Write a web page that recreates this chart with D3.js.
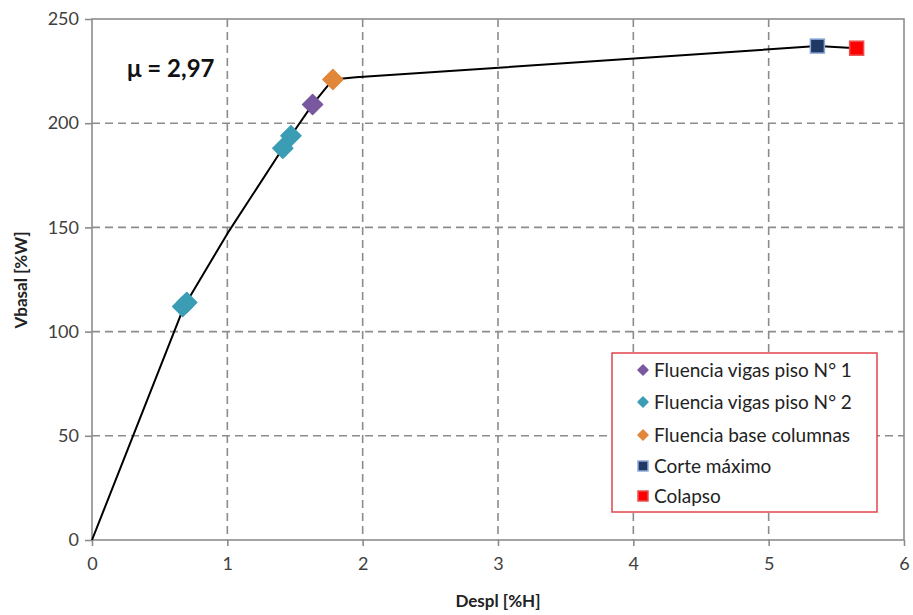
<!DOCTYPE html>
<html><head><meta charset="utf-8">
<script src="https://cdn.jsdelivr.net/npm/d3@7"></script>
<style>body{margin:0;background:#fff}svg{display:block}</style>
</head><body>
<svg id="c" width="913" height="615"></svg>
<script>
const curveX = [0, 0.68, 1.0, 1.41, 1.47, 1.63, 1.78, 1.95, 5.36, 5.65];
const curveY = [0, 112, 147, 188, 194, 209, 221, 222, 237, 236];
const xTicks = [0,1,2,3,4,5,6];
const yTicks = [0,50,100,150,200,250];
const seriesNames = ["Fluencia vigas piso N° 1","Fluencia vigas piso N° 2","Fluencia base columnas","Corte máximo","Colapso"];
const seriesColors = ["#7a58a0","#3a9db4","#e2873a","#1f3864","#ff0000"];
const seriesShapes = ["diamond","diamond","diamond","square","square"];
const seriesX = [[1.63],[0.67,0.70,1.41,1.47],[1.78],[5.36],[5.65]];
const seriesY = [[209],[112,114,188,194],[221],[237],[236]];
const muLabel = "μ = 2,97";

const svg = d3.select("#c");
const L=92,R=904,T=19,B=540;
const x = d3.scaleLinear().domain([0,6]).range([L,R]);
const y = d3.scaleLinear().domain([0,250]).range([B,T]);
const font = "Lato, 'Open Sans', sans-serif";

// grid
const g = svg.append("g");
g.selectAll(".vg").data(xTicks.filter(d=>d>0&&d<6)).enter().append("line")
 .attr("x1",d=>x(d)).attr("x2",d=>x(d)).attr("y1",T).attr("y2",B)
 .attr("stroke","#8c8c8c").attr("stroke-width",1.6).attr("stroke-dasharray","8,5");
g.selectAll(".hg").data(yTicks.filter(d=>d>0&&d<250)).enter().append("line")
 .attr("y1",d=>y(d)).attr("y2",d=>y(d)).attr("x1",L).attr("x2",R)
 .attr("stroke","#8c8c8c").attr("stroke-width",1.6).attr("stroke-dasharray","8,5");
g.append("rect").attr("x",L).attr("y",T).attr("width",R-L).attr("height",B-T)
 .attr("fill","none").attr("stroke","#8c8c8c").attr("stroke-width",1.6);

// axes
const xa = svg.append("g").attr("transform",`translate(0,${B})`)
 .call(d3.axisBottom(x).tickValues(xTicks).tickSize(6).tickPadding(11).tickFormat(d3.format("d")));
const ya = svg.append("g").attr("transform",`translate(${L},0)`)
 .call(d3.axisLeft(y).tickValues(yTicks).tickSize(7).tickPadding(6).tickFormat(d3.format("d")));
[xa,ya].forEach(a=>{
  a.select(".domain").remove();
  a.selectAll("line").attr("stroke","#8c8c8c").attr("stroke-width",1.6);
  a.selectAll("text").attr("font-family",font).attr("font-size",18).attr("fill","#404040");
});

// axis titles
svg.append("text").attr("x",498).attr("y",607).attr("text-anchor","middle")
 .attr("font-family",font).attr("font-weight","bold").attr("font-size",17).attr("fill","#222")
 .text("Despl [%H]");
svg.append("text").attr("transform","translate(27,280) rotate(-90)").attr("text-anchor","middle")
 .attr("font-family",font).attr("font-weight","bold").attr("font-size",17).attr("fill","#222")
 .text("Vbasal [%W]");

// curve
const pts = curveX.map((d,i)=>[d,curveY[i]]);
svg.append("path").datum(pts)
 .attr("d",d3.line().x(d=>x(d[0])).y(d=>y(d[1])))
 .attr("fill","none").attr("stroke","#000").attr("stroke-width",2).attr("stroke-linejoin","round");

// markers
function drawMarker(sel, shape, color, cx, cy, s){
  if(shape==="diamond"){
    sel.append("path").attr("d",`M${cx},${cy-s}L${cx+s},${cy}L${cx},${cy+s}L${cx-s},${cy}Z`)
      .attr("fill",color).attr("stroke",color).attr("stroke-width",1.5).attr("stroke-linejoin","round");
  } else {
    sel.append("rect").attr("x",cx-s).attr("y",cy-s).attr("width",2*s).attr("height",2*s)
      .attr("fill",color).attr("stroke",color==="#ff0000"?"#e85050":"#8ea9d8").attr("stroke-width",1.5);
  }
}
seriesX.forEach((xs,i)=>{
  xs.forEach((v,j)=>{
    drawMarker(svg, seriesShapes[i], seriesColors[i], x(v), y(seriesY[i][j]), seriesShapes[i]==="diamond"?10:7);
  });
});

// mu label
svg.append("text").attr("x",127).attr("y",77).attr("font-family",font)
 .attr("font-weight","bold").attr("font-size",24).attr("fill","#111").text(muLabel);

// legend
const lg = svg.append("g");
lg.append("rect").attr("x",612).attr("y",353).attr("width",265).attr("height",159)
 .attr("fill","#fff").attr("stroke","#e0464e").attr("stroke-width",1.5);
const ly = [370,402,435,466,496];
seriesNames.forEach((n,i)=>{
  drawMarker(lg, seriesShapes[i], seriesColors[i], 643, ly[i], 5);
  lg.append("text").attr("x",654).attr("y",ly[i]).attr("dy","0.35em")
   .attr("font-family",font).attr("font-size",19).attr("fill","#222").text(n);
});
</script>
</body></html>
